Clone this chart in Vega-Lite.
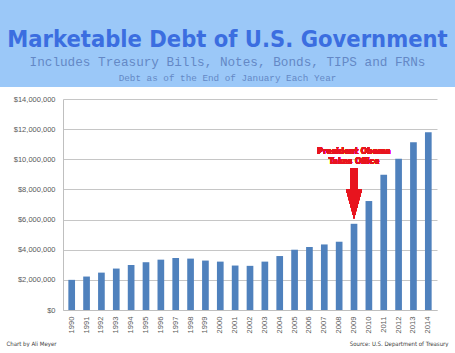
{
  "$schema": "https://vega.github.io/schema/vega-lite/v6.json",
  "background": "white",
  "padding": 0,
  "columns": 1,
  "align": "none",
  "spacing": 8,
  "concat": [
    {
      "columns": 1,
      "align": "none",
      "spacing": 0,
      "concat": [
        {
          "width": 455,
          "height": 69,
          "view": {"fill": "#9bc8f8", "stroke": null},
          "title": {
            "text": "Marketable Debt of U.S. Government",
            "subtitle": "Includes Treasury Bills, Notes, Bonds, TIPS and FRNs",
            "orient": "top",
            "anchor": "middle",
            "offset": -69,
            "font": "DejaVu Sans Condensed",
            "fontSize": 23.5,
            "fontWeight": "bold",
            "color": "#3b6ee0",
            "subtitleFont": "Liberation Mono",
            "subtitleFontSize": 12.7,
            "subtitleColor": "#6488c6",
            "subtitlePadding": 5
          },
          "data": {"values": []},
          "mark": "text"
        },
        {
          "width": 455,
          "height": 18,
          "view": {"fill": "#9bc8f8", "stroke": null},
          "data": {"values": [{"note": "Debt as of the End of January Each Year"}]},
          "mark": {"type": "text", "font": "Liberation Mono", "fontSize": 9.3, "color": "#6488c6"},
          "encoding": {"text": {"field": "note", "type": "nominal"}}
        }
      ]
    },
    {
      "width": 455,
      "height": 211,
      "view": {"stroke": null},
      "data": {
        "values": [
          {"year": "1990", "debt": 2000000},
          {"year": "1991", "debt": 2220000},
          {"year": "1992", "debt": 2480000},
          {"year": "1993", "debt": 2750000},
          {"year": "1994", "debt": 2990000},
          {"year": "1995", "debt": 3170000},
          {"year": "1996", "debt": 3340000},
          {"year": "1997", "debt": 3450000},
          {"year": "1998", "debt": 3410000},
          {"year": "1999", "debt": 3280000},
          {"year": "2000", "debt": 3210000},
          {"year": "2001", "debt": 2950000},
          {"year": "2002", "debt": 2930000},
          {"year": "2003", "debt": 3210000},
          {"year": "2004", "debt": 3580000},
          {"year": "2005", "debt": 4000000},
          {"year": "2006", "debt": 4180000},
          {"year": "2007", "debt": 4350000},
          {"year": "2008", "debt": 4530000},
          {"year": "2009", "debt": 5720000},
          {"year": "2010", "debt": 7230000},
          {"year": "2011", "debt": 8970000},
          {"year": "2012", "debt": 10030000},
          {"year": "2013", "debt": 11130000},
          {"year": "2014", "debt": 11800000}
        ]
      },
      "encoding": {
        "x": {
          "field": "year",
          "type": "nominal",
          "scale": {"range": [63, 437], "paddingInner": 0.55, "paddingOuter": 0.36},
          "axis": {
            "labelAngle": -90,
            "labelFont": "Liberation Sans",
            "labelFontSize": 7.6,
            "labelColor": "#595959",
            "labelPadding": 6,
            "ticks": false,
            "domainColor": "#bfbfbf",
            "title": "Source: U.S. Department of Treasury",
            "titleX": 448,
            "titleY": 35.5,
            "titleAlign": "right",
            "titleAnchor": null,
            "titleBaseline": "alphabetic",
            "titleFont": "DejaVu Sans Condensed",
            "titleFontSize": 6,
            "titleFontWeight": "normal",
            "titleColor": "#404040"
          }
        }
      },
      "layer": [
        {
          "mark": {"type": "bar", "color": "#4f81bd"},
          "encoding": {
            "y": {
              "field": "debt",
              "type": "quantitative",
              "scale": {"domain": [0, 14000000]},
              "axis": {
                "values": [0, 2000000, 4000000, 6000000, 8000000, 10000000, 12000000, 14000000],
                "format": "$,.0f",
                "offset": -63,
                "labelFont": "Liberation Sans",
                "labelFontSize": 7.5,
                "labelColor": "#595959",
                "labelPadding": 8,
                "labelOverlap": false,
                "ticks": false,
                "domainColor": "#bfbfbf",
                "gridColor": "#c6c6c6",
                "title": "Chart by Ali Meyer",
                "titleAngle": 0,
                "titleX": -57,
                "titleY": 246.5,
                "titleAlign": "left",
                "titleAnchor": null,
                "titleBaseline": "alphabetic",
                "titleFont": "DejaVu Sans Condensed",
                "titleFontSize": 6,
                "titleFontWeight": "normal",
                "titleColor": "#404040"
              }
            }
          }
        },
        {
          "mark": {"type": "rule", "color": "#e8141e", "strokeWidth": 8, "strokeCap": "butt"},
          "encoding": {
            "x": {"datum": "2009"},
            "y": {
              "datum": 9420000,
              "type": "quantitative",
              "axis": {
                "values": [0, 2000000, 4000000, 6000000, 8000000, 10000000, 12000000, 14000000],
                "format": "$,.0f",
                "offset": -63,
                "labelFont": "Liberation Sans",
                "labelFontSize": 7.5,
                "labelColor": "#595959",
                "labelPadding": 8,
                "labelOverlap": false,
                "ticks": false,
                "domainColor": "#bfbfbf",
                "gridColor": "#c6c6c6",
                "title": "Chart by Ali Meyer",
                "titleAngle": 0,
                "titleX": -57,
                "titleY": 246.5,
                "titleAlign": "left",
                "titleAnchor": null,
                "titleBaseline": "alphabetic",
                "titleFont": "DejaVu Sans Condensed",
                "titleFontSize": 6,
                "titleFontWeight": "normal",
                "titleColor": "#404040"
              }
            },
            "y2": {"datum": 7980000}
          }
        },
        {
          "mark": {"type": "point", "shape": "M-0.546,-1L0.546,-1L0,1Z", "filled": true, "color": "#e8141e", "opacity": 1, "size": 858, "strokeWidth": 0},
          "encoding": {
            "x": {"datum": "2009"},
            "y": {
              "datum": 7030000,
              "type": "quantitative",
              "axis": {
                "values": [0, 2000000, 4000000, 6000000, 8000000, 10000000, 12000000, 14000000],
                "format": "$,.0f",
                "offset": -63,
                "labelFont": "Liberation Sans",
                "labelFontSize": 7.5,
                "labelColor": "#595959",
                "labelPadding": 8,
                "labelOverlap": false,
                "ticks": false,
                "domainColor": "#bfbfbf",
                "gridColor": "#c6c6c6",
                "title": "Chart by Ali Meyer",
                "titleAngle": 0,
                "titleX": -57,
                "titleY": 246.5,
                "titleAlign": "left",
                "titleAnchor": null,
                "titleBaseline": "alphabetic",
                "titleFont": "DejaVu Sans Condensed",
                "titleFontSize": 6,
                "titleFontWeight": "normal",
                "titleColor": "#404040"
              }
            }
          }
        },
        {
          "mark": {"type": "text", "font": "DejaVu Sans Condensed", "fontWeight": "bold", "fontSize": 8.4, "color": "#e8141e", "baseline": "alphabetic", "lineHeight": 10.5},
          "encoding": {
            "x": {"datum": "2009"},
            "y": {
              "datum": 10380000,
              "type": "quantitative",
              "axis": {
                "values": [0, 2000000, 4000000, 6000000, 8000000, 10000000, 12000000, 14000000],
                "format": "$,.0f",
                "offset": -63,
                "labelFont": "Liberation Sans",
                "labelFontSize": 7.5,
                "labelColor": "#595959",
                "labelPadding": 8,
                "labelOverlap": false,
                "ticks": false,
                "domainColor": "#bfbfbf",
                "gridColor": "#c6c6c6",
                "title": "Chart by Ali Meyer",
                "titleAngle": 0,
                "titleX": -57,
                "titleY": 246.5,
                "titleAlign": "left",
                "titleAnchor": null,
                "titleBaseline": "alphabetic",
                "titleFont": "DejaVu Sans Condensed",
                "titleFontSize": 6,
                "titleFontWeight": "normal",
                "titleColor": "#404040"
              }
            },
            "text": {"value": ["President Obama", "Takes Office"]}
          }
        }
      ]
    }
  ]
}
